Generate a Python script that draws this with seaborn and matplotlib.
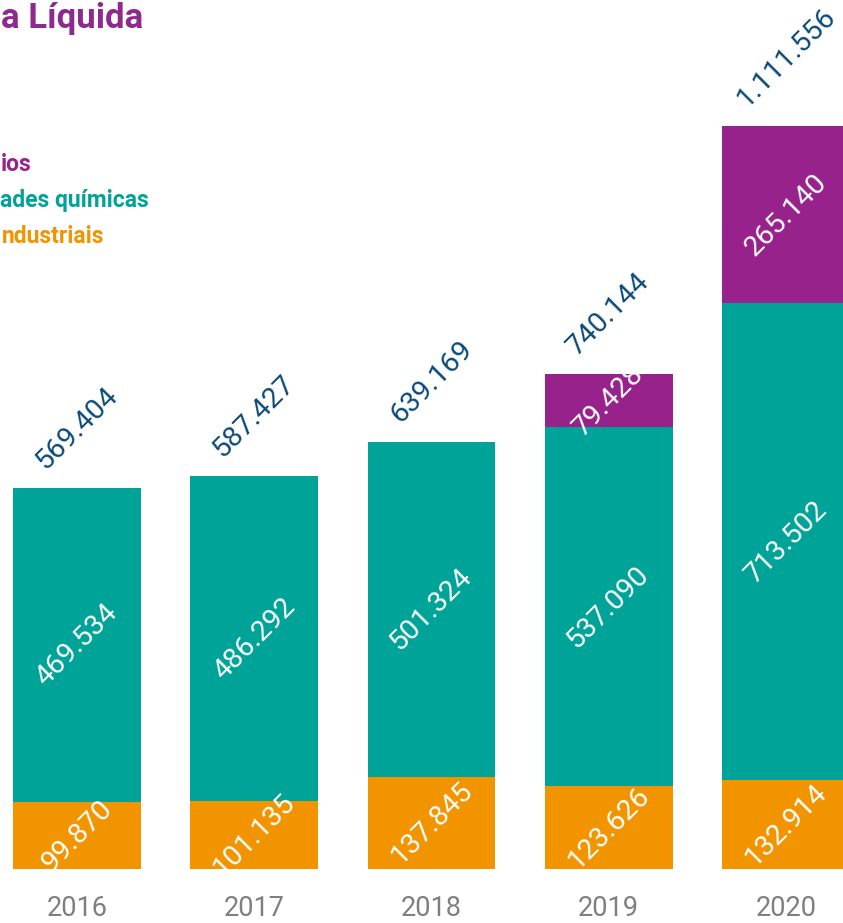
import matplotlib
matplotlib.use("Agg")
import matplotlib.pyplot as plt
import seaborn as sns
import pandas as pd
import numpy as np

years = ["2016", "2017", "2018", "2019", "2020"]
industriais = [99870, 101135, 137845, 123626, 132914]
quimicas = [469534, 486292, 501324, 537090, 713502]
outros = [0, 0, 0, 79428, 265140]
totals = [569404, 587427, 639169, 740144, 1111556]

title_text = "a Líquida"
legend_texts = ["ios", "ades químicas", "ndustriais"]

PURPLE = "#97228b"
TEAL = "#00a398"
ORANGE = "#f29400"
NAVY = "#0b4a78"
GRAY = "#7f7f7f"

def fmt(v):
    return f"{v:,}".replace(",", ".")

sns.set_theme(style="white")
plt.rcParams["font.family"] = ["Roboto", "DejaVu Sans"]

W, H = 843, 923
fig = plt.figure(figsize=(W / 100, H / 100), dpi=100)
ax = fig.add_axes([0, 54 / H, 1, 869 / H])

df = pd.DataFrame({
    "year": years,
    "ind": industriais,
    "qui": quimicas,
    "out": outros,
})
df["lvl2"] = df["ind"] + df["qui"]
df["lvl3"] = df["lvl2"] + df["out"]

bw = 0.722
for col, c in [("lvl3", PURPLE), ("lvl2", TEAL), ("ind", ORANGE)]:
    sns.barplot(data=df, x="year", y=col, color=c, saturation=1, width=bw,
                linewidth=0, edgecolor="none", ax=ax)

ax.set_xlim(-0.4344, 4.3216)
ax.set_ylim(0, 1300040)
for s in ax.spines.values():
    s.set_visible(False)
ax.set_yticks([])
ax.set_xlabel("")
ax.set_ylabel("")
ax.tick_params(axis="x", length=0, pad=19, labelsize=19.5, labelcolor=GRAY)

lab_kw = dict(rotation=45, fontsize=20.5, fontweight="normal")
for i in range(len(years)):
    ind = df["ind"][i]
    qui = df["qui"][i]
    out = df["out"][i]
    ax.text(i, ind / 2, fmt(ind), color="white", ha="center", va="center", **lab_kw)
    ax.text(i, ind + qui / 2, fmt(qui), color="white", ha="center", va="center", **lab_kw)
    if out > 0:
        ax.text(i, ind + qui + out / 2, fmt(out), color="white", ha="center", va="center", **lab_kw)
    ax.annotate(fmt(totals[i]), xy=(i, totals[i]), xytext=(0, 10),
                textcoords="offset points", color=NAVY, ha="center", va="bottom",
                annotation_clip=False, **lab_kw)

fig.text(143 / W, 1 - 28 / H, title_text, color="#8e2a8e", fontsize=25,
         fontweight="bold", ha="right", va="baseline")
leg_colors = [PURPLE, TEAL, ORANGE]
leg_right = [32, 149, 104]
leg_base = [171, 207, 243]
for t, c, r, b in zip(legend_texts, leg_colors, leg_right, leg_base):
    fig.text(r / W, 1 - b / H, t, color=c, fontsize=16.5, fontweight="bold",
             ha="right", va="baseline")

fig.savefig("out.png", dpi=100)
